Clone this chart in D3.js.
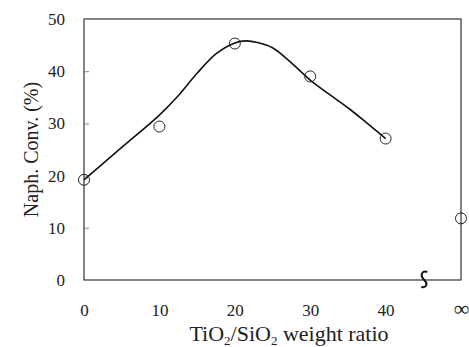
<!DOCTYPE html>
<html><head><meta charset="utf-8">
<script src="https://cdn.jsdelivr.net/npm/d3@7"></script>
<style>body{margin:0;background:#fff}svg{display:block}</style>
</head><body>
<svg id="c" width="469" height="347"></svg>
<script>
const categories = ["0","10","20","30","40","∞"];
const catPos = [0,10,20,30,40,50];
const measured = [19.2,29.4,45.3,39.0,27.1,11.8];
const fitX = [0,5,10,12.5,15,17.5,20,21.5,23,25,27.5,30,32.5,35,37.5,40];
const fitY = [19.2,25.4,31.6,35.3,39.6,43.3,45.4,45.8,45.5,44.5,41.6,38.3,35.6,33.0,30.1,27.1];
const yTicks = [0,10,20,30,40,50];

const svg = d3.select("#c");
const L=84,R=461,T=19,B=280;
const x = d3.scaleLinear().domain([0,50]).range([L,R]);
const y = d3.scaleLinear().domain([0,50]).range([B,T]);
const font = "Liberation Serif, Times New Roman, serif";
const ink = "#222";

// frame
svg.append("rect").attr("x",L).attr("y",T).attr("width",R-L).attr("height",B-T)
  .attr("fill","none").attr("stroke","#333").attr("stroke-width",1.2);

// y axis
const yAxis = d3.axisLeft(y).tickValues(yTicks).tickSize(-5).tickPadding(19);
const gy = svg.append("g").attr("transform",`translate(${L},0)`).call(yAxis);
gy.select(".domain").remove();
gy.selectAll(".tick line").attr("stroke","#888");
gy.selectAll("text").attr("font-family",font).attr("font-size",17).attr("fill",ink);

// x axis labels
const xAxis = d3.axisBottom(x).tickValues(catPos).tickFormat((d,i)=>categories[i]).tickSize(0).tickPadding(24);
const gx = svg.append("g").attr("transform",`translate(0,${B})`).call(xAxis);
gx.select(".domain").remove();
gx.selectAll("text").attr("font-family",font).attr("font-size",17).attr("fill",ink);
gx.selectAll(".tick").filter((d,i)=>i===5).select("text").attr("font-size",22).attr("dy","0.55em");

// axis titles
svg.append("text").attr("transform",`translate(38,${(T+B)/2}) rotate(-90)`)
  .attr("text-anchor","middle").attr("font-family",font).attr("font-size",20).attr("fill",ink)
  .text("Naph. Conv. (%)");
const xt = svg.append("text").attr("x",289).attr("y",341).attr("text-anchor","middle")
  .attr("font-family",font).attr("font-size",22).attr("fill",ink);
xt.append("tspan").text("TiO");
xt.append("tspan").attr("font-size",13).attr("dy",4).text("2");
xt.append("tspan").attr("dy",-4).text("/SiO");
xt.append("tspan").attr("font-size",13).attr("dy",4).text("2");
xt.append("tspan").attr("dy",-4).text(" weight ratio");

// axis break
const bx = x((catPos[4]+catPos[5])/2)+1;
svg.append("path")
  .attr("d",`M${bx+3},${B-8} C${bx-2},${B-10} ${bx-5},${B-5} ${bx},${B} C${bx+4},${B+4} ${bx+2},${B+8} ${bx-3},${B+7}`)
  .attr("fill","none").attr("stroke","#111").attr("stroke-width",2);

// fit curve
const line = d3.line().x(d=>x(d[0])).y(d=>y(d[1])).curve(d3.curveCatmullRom);
svg.append("path").datum(fitX.map((v,i)=>[v,fitY[i]])).attr("d",line)
  .attr("fill","none").attr("stroke","#111").attr("stroke-width",1.6);

// points
svg.selectAll("circle.pt").data(measured).enter().append("circle").attr("class","pt")
  .attr("cx",(d,i)=>x(catPos[i])).attr("cy",d=>y(d)).attr("r",5.5)
  .attr("fill","none").attr("stroke","#222").attr("stroke-width",1);
</script>
</body></html>
